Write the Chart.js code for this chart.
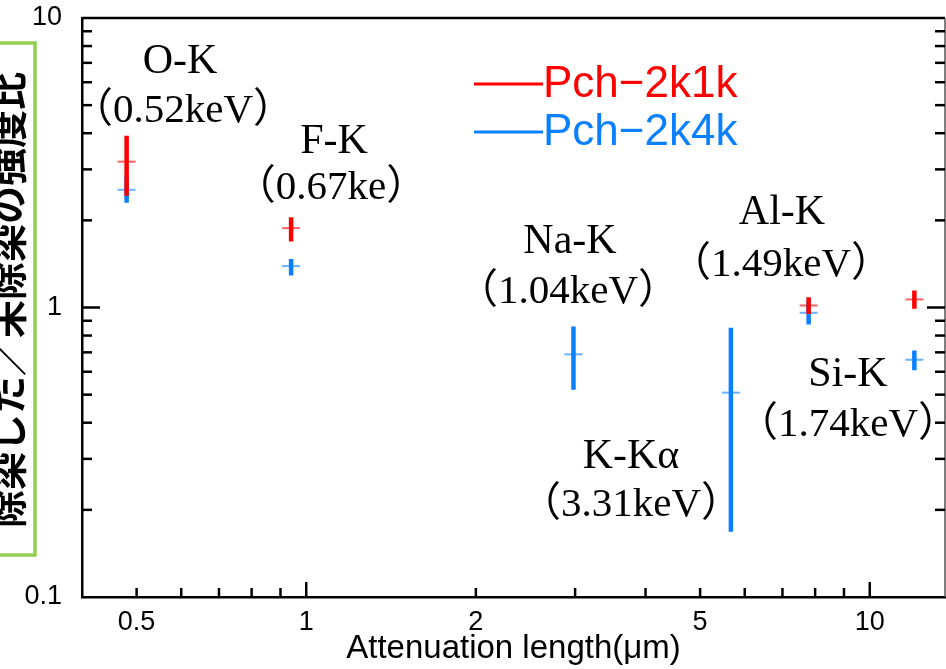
<!DOCTYPE html>
<html>
<head>
<meta charset="utf-8">
<script src="https://cdn.jsdelivr.net/npm/chart.js@4/dist/chart.umd.min.js"></script>
<style>
  html, body { margin: 0; padding: 0; background: #fff; overflow: hidden; }
  #wrap { width: 946px; height: 669px; position: relative; overflow: hidden; }
  canvas { display: block; }
</style>
</head>
<body>
<div id="wrap"><canvas id="c" width="946" height="669"></canvas></div>
<script>
// ---- data ----
const lineNames = ['O-K', 'F-K', 'Na-K', 'K-Kα', 'Al-K', 'Si-K'];
const energyLabels = ['（0.52keV）', '（0.67ke）', '（1.04keV）', '（3.31keV）', '（1.49keV）', '（1.74keV）'];
const attenuationLength = [0.48, 0.94, 2.98, 5.67, 7.79, 12.0];
const ratio2k1k = [3.19, 1.88, null, null, 1.016, 1.066];
const low2k1k   = [2.43, 1.69, null, null, 0.95, 0.99];
const high2k1k  = [3.92, 2.05, null, null, 1.085, 1.144];
const ratio2k4k = [2.55, 1.39, 0.689, 0.508, 0.959, 0.660];
const low2k4k   = [2.30, 1.29, 0.520, 0.168, 0.874, 0.607];
const high2k4k  = [2.83, 1.47, 0.860, 0.851, 1.056, 0.711];
const seriesNames = ['Pch−2k1k', 'Pch−2k4k'];
const xTickLabels = [0.5, 1, 2, 5, 10];
const yTickLabels = [0.1, 1, 10];
const yAxisTitle = '除染した／未除染の強度比';
const xAxisTitle = 'Attenuation length(μm)';

// ---- styles ----
const RED = '#ff0000', BLUE = '#0a80ff';
const RED_CAP = 'rgba(255,70,70,0.85)', BLUE_CAP = 'rgba(90,170,255,0.9)';

function errorSegments(xs, lo, hi) {
  const out = [];
  xs.forEach((x, i) => {
    if (lo[i] == null || hi[i] == null) return;
    out.push({x: x, y: lo[i]}, {x: x, y: hi[i]}, {x: x, y: null});
  });
  return out;
}
function centers(xs, v) {
  const out = [];
  xs.forEach((x, i) => { if (v[i] != null) out.push({x: x, y: v[i]}); });
  return out;
}
const near = (list, v) => list.find(t => Math.abs(t - v) / t < 1e-6);

const annotPos = [
  [180, 62, 183, 111],
  [334, 142, 331, 188],
  [570, 242, 568, 292],
  [631, 457, 631, 505],
  [782, 213, 781, 265],
  [848, 375, 848, 425]
];

const deco = {
  id: 'deco',
  beforeDraw(chart) {
    const ctx = chart.ctx;
    ctx.save();
    ctx.fillStyle = '#fff';
    ctx.fillRect(0, 0, chart.width, chart.height);
    ctx.restore();
  },
  afterDraw(chart) {
    const ctx = chart.ctx;
    const a = chart.chartArea;
    const xs = chart.scales.x, ys = chart.scales.y;
    ctx.save();
    // frame top/right
    ctx.strokeStyle = '#000';
    ctx.lineWidth = 2.5;
    ctx.beginPath();
    ctx.moveTo(a.left, a.top); ctx.lineTo(a.right, a.top);
    ctx.stroke();
    ctx.lineWidth = 1.5;
    ctx.strokeStyle = '#555';
    ctx.beginPath();
    ctx.moveTo(a.right, a.top); ctx.lineTo(a.right, a.bottom);
    ctx.stroke();
    // inner ticks
    ctx.strokeStyle = '#000';
    ctx.lineWidth = 2.5;
    for (let e = -1; e <= 1; e++) {
      for (let k = 1; k <= 9; k++) {
        const v = k * Math.pow(10, e);
        if (v > xs.min * 1.001 && v < xs.max) {
          const px = xs.getPixelForValue(v);
          const len = (k === 1) ? 15 : 9;
          ctx.beginPath(); ctx.moveTo(px, a.bottom); ctx.lineTo(px, a.bottom - len); ctx.stroke();
        }
        if (v > ys.min * 1.001 && v < ys.max * 0.999) {
          const py = ys.getPixelForValue(v);
          const len = (k === 1) ? 18 : 10;
          ctx.beginPath(); ctx.moveTo(a.left, py); ctx.lineTo(a.left + len, py); ctx.stroke();
          ctx.beginPath(); ctx.moveTo(a.right, py); ctx.lineTo(a.right - len, py); ctx.stroke();
        }
      }
    }
    // legend
    chart.data.datasets.filter(d => d.legendRow != null).forEach(d => {
      const y = 84 + d.legendRow * 48;
      ctx.strokeStyle = d.borderColor;
      ctx.lineWidth = 3;
      ctx.beginPath(); ctx.moveTo(474, y); ctx.lineTo(543, y); ctx.stroke();
      ctx.fillStyle = d.borderColor;
      ctx.font = '44px "Liberation Sans", Arial, sans-serif';
      ctx.textAlign = 'left';
      ctx.textBaseline = 'middle';
      ctx.fillText(d.label, 543, y + 1);
    });
    // annotations
    ctx.fillStyle = '#000';
    ctx.textAlign = 'center';
    ctx.textBaseline = 'middle';
    lineNames.forEach((n, i) => {
      const p = annotPos[i];
      ctx.font = '42px "Liberation Serif", "Times New Roman", serif';
      ctx.fillText(n, p[0], p[1]);
      ctx.font = '41px "Liberation Serif", "Noto Sans CJK JP", serif';
      ctx.fillText(energyLabels[i], p[2], p[3]);
    });
    // y title box
    ctx.strokeStyle = '#92d050';
    ctx.lineWidth = 3.5;
    ctx.strokeRect(-10, 43, 45, 512);
    ctx.beginPath();
    ctx.rect(0, 0, 34, chart.height);
    ctx.clip();
    ctx.translate(8, 300);
    ctx.rotate(-Math.PI / 2);
    ctx.fillStyle = '#000';
    ctx.font = 'bold 38px "Noto Sans CJK JP", sans-serif';
    ctx.fillText(yAxisTitle, 0, 0);
    ctx.restore();
  }
};

const datasets = [
  { label: seriesNames[0], legendRow: 0, data: errorSegments(attenuationLength, low2k1k, high2k1k),
    showLine: true, spanGaps: false, borderColor: RED, borderWidth: 4.5, borderCapStyle: 'butt',
    pointRadius: 0, order: 1 },
  { label: seriesNames[1], legendRow: 1, data: errorSegments(attenuationLength, low2k4k, high2k4k),
    showLine: true, spanGaps: false, borderColor: BLUE, borderWidth: 4.5, borderCapStyle: 'butt',
    pointRadius: 0, order: 2 },
  { label: 'cap1', data: centers(attenuationLength, ratio2k1k), showLine: false,
    pointStyle: 'line', pointRadius: 9, pointBorderWidth: 2, pointBorderColor: RED_CAP,
    borderColor: RED_CAP, order: 3 },
  { label: 'cap2', data: centers(attenuationLength, ratio2k4k), showLine: false,
    pointStyle: 'line', pointRadius: 9, pointBorderWidth: 2, pointBorderColor: BLUE_CAP,
    borderColor: BLUE_CAP, order: 4 }
];

new Chart(document.getElementById('c'), {
  type: 'scatter',
  data: { datasets },
  options: {
    responsive: false,
    animation: false,
    events: [],
    layout: { autoPadding: false, padding: { left: 0, top: 18, right: 1, bottom: 0 } },
    plugins: { legend: { display: false }, tooltip: { enabled: false } },
    scales: {
      x: {
        type: 'logarithmic', min: 0.4, max: 13.6,
        afterFit(s) { s.height = 72; s.paddingLeft = 0; s.paddingRight = 0; },
        grid: { display: true, drawOnChartArea: false, drawTicks: true, tickLength: 9, color: 'rgba(0,0,0,0)' },
        border: { display: true, color: '#000', width: 2.5 },
        ticks: {
          autoSkip: false, maxRotation: 0, padding: 0, color: '#000',
          font: { family: '"Liberation Sans", Arial, sans-serif', size: 27 },
          callback: (v) => { const t = near(xTickLabels, v); return t !== undefined ? String(t) : ''; }
        },
        title: { display: true, text: xAxisTitle, color: '#000', padding: { top: 0, bottom: 0 },
          font: { family: '"Liberation Sans", Arial, sans-serif', size: 33 } }
      },
      y: {
        type: 'logarithmic', min: 0.1, max: 10,
        afterFit(s) { s.width = 82; s.paddingTop = 0; s.paddingBottom = 0; },
        grid: { display: true, drawOnChartArea: false, drawTicks: true, tickLength: 20, color: 'rgba(0,0,0,0)' },
        border: { display: true, color: '#000', width: 2.5 },
        ticks: {
          autoSkip: false, padding: 0, color: '#000',
          font: { family: '"Liberation Sans", Arial, sans-serif', size: 27 },
          callback: (v) => { const t = near(yTickLabels, v); return t !== undefined ? String(t) : ''; }
        },
        title: { display: false }
      }
    }
  },
  plugins: [deco]
});
</script>
</body>
</html>
